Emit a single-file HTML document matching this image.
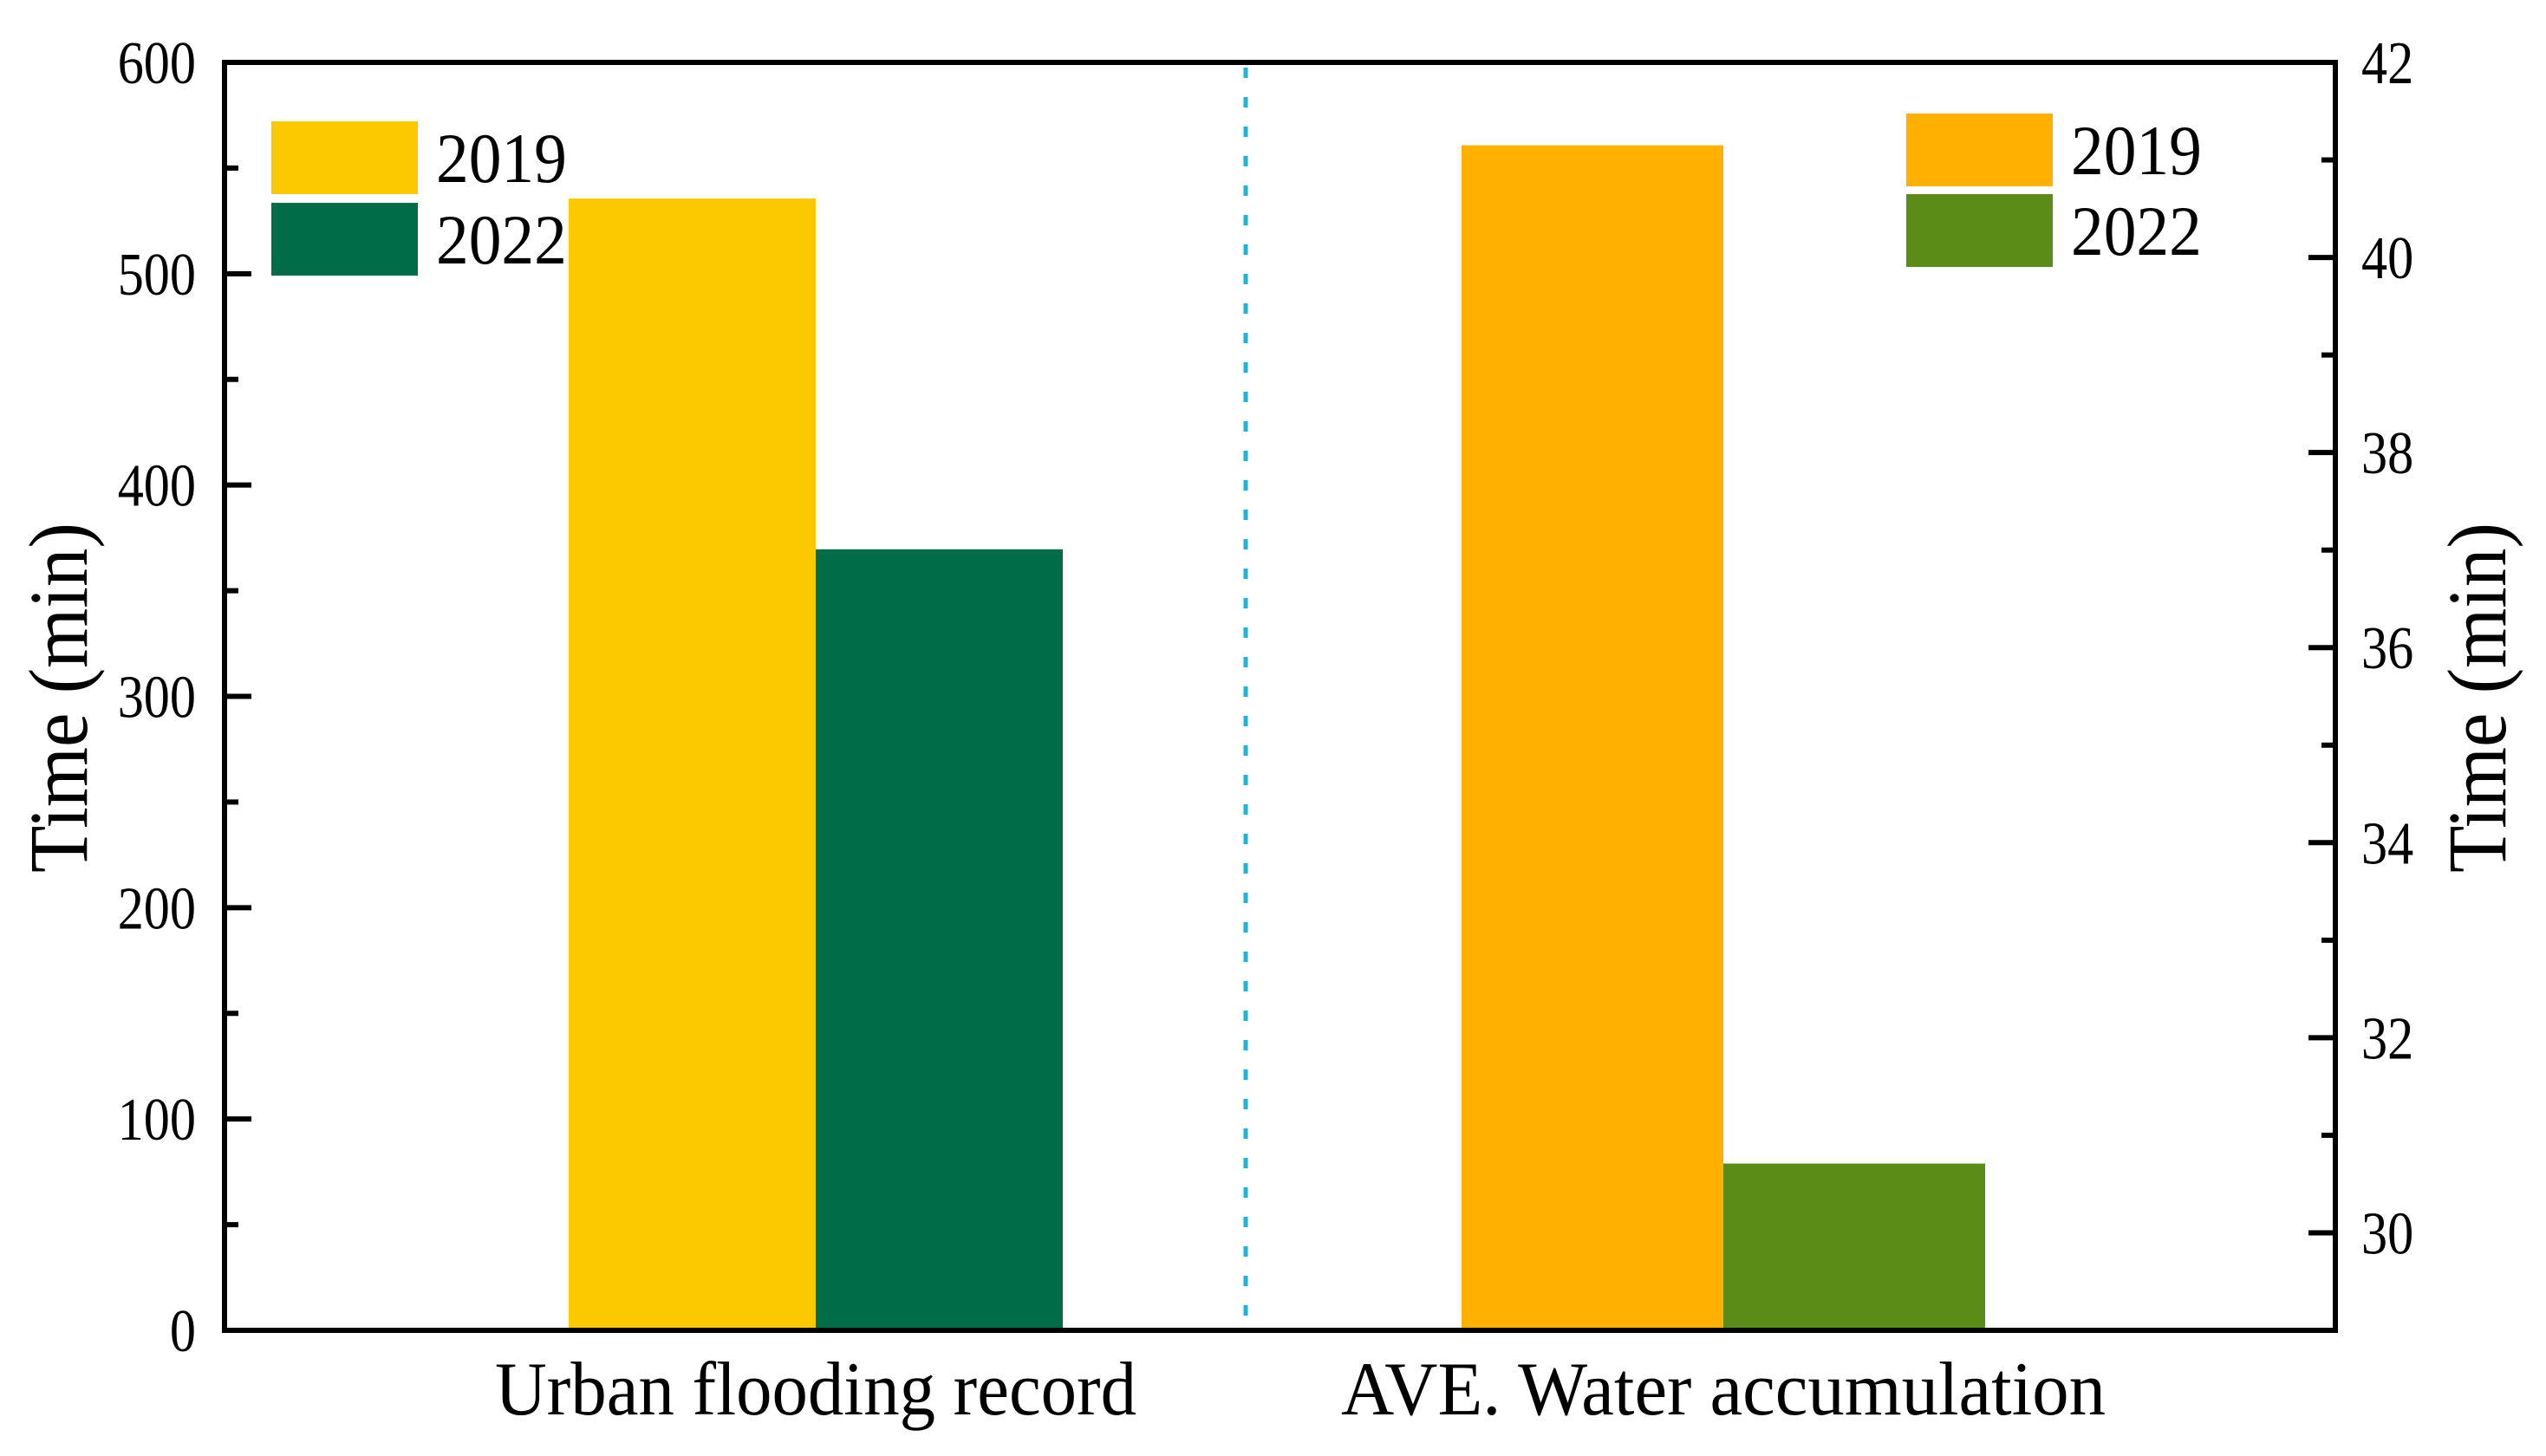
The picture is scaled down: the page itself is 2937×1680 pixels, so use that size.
<!DOCTYPE html>
<html><head><meta charset="utf-8"><style>
html,body{margin:0;padding:0;background:#fff;}
svg{display:block;font-family:"Liberation Serif",serif;}
</style></head><body>
<svg id="chart" width="2937" height="1680" xmlns="http://www.w3.org/2000/svg"></svg>
<script>
const categories = ["Urban flooding record", "AVE. Water accumulation"];
const leftValues2019 = [535.6];
const leftValues2022 = [369.6];
const rightValues2019 = [41.15];
const rightValues2022 = [30.71];
const leftTicks = [0, 100, 200, 300, 400, 500, 600];
const rightTicks = [30, 32, 34, 36, 38, 40, 42];

const svg = document.getElementById('chart');
const NS = 'http://www.w3.org/2000/svg';
const L = 259, R = 2694, T = 72, B = 1535;
const yL = v => B - (v - 0) / 600 * (B - T);
const yR = v => B - (v - 29) / 13 * (B - T);
const groupCenters = [941, 1988];
const barW = [285, 302];

function mk(tag, attrs, parent) {
  const e = document.createElementNS(NS, tag);
  for (const k in attrs) e.setAttribute(k, attrs[k]);
  (parent || svg).appendChild(e);
  return e;
}

function bar(x, w, yTop, color, name) {
  const r = mk('rect', {x: x, y: yTop, width: w, height: B - yTop, fill: color});
  
  
}
bar(groupCenters[0] - barW[0], barW[0], yL(leftValues2019[0]), '#fcc800', 'bar-flooding-2019');
bar(groupCenters[0], barW[0], yL(leftValues2022[0]), '#006c48', 'bar-flooding-2022');
bar(groupCenters[1] - barW[1], barW[1], yR(rightValues2019[0]), '#ffb000', 'bar-accumulation-2019');
bar(groupCenters[1], barW[1], yR(rightValues2022[0]), '#5b8c18', 'bar-accumulation-2022');

const dv = mk('line', {x1: 1437, x2: 1437, y1: T + 6, y2: B, stroke: '#1ab4dc', 'stroke-width': 5, 'stroke-dasharray': '12 22'});



const fr = mk('rect', {x: L, y: T, width: R - L, height: B - T, fill: 'none', stroke: '#000', 'stroke-width': 6});



for (let v = 0; v <= 600; v += 50) {
  const major = v % 100 === 0;
  const t = mk('line', {x1: L, x2: L + (major ? 31 : 16), y1: yL(v), y2: yL(v), stroke: '#000', 'stroke-width': 6});
  
  
}
leftTicks.forEach(v => {
  const t = mk('text', {x: 0, y: 0, 'text-anchor': 'end', 'font-size': 70, transform: 'translate(226,' + (yL(v) + 24) + ') scale(0.86,1)'});
  t.textContent = v;
  
  
});
for (let v = 30; v <= 42; v += 1) {
  const major = v % 2 === 0;
  const t = mk('line', {x1: R, x2: R - (major ? 31 : 16), y1: yR(v), y2: yR(v), stroke: '#000', 'stroke-width': 6});
  
  
}
rightTicks.forEach(v => {
  const t = mk('text', {x: 0, y: 0, 'text-anchor': 'start', 'font-size': 70, transform: 'translate(2724,' + (yR(v) + 24) + ') scale(0.86,1)'});
  t.textContent = v;
  
  
});

const lt = mk('text', {x: 0, y: 0, 'text-anchor': 'middle', 'font-size': 96, textLength: 404, lengthAdjust: 'spacingAndGlyphs', transform: 'translate(100,805) rotate(-90)'});
lt.textContent = 'Time (min)';


const rt = mk('text', {x: 0, y: 0, 'text-anchor': 'middle', 'font-size': 96, textLength: 404, lengthAdjust: 'spacingAndGlyphs', transform: 'translate(2890,805) rotate(-90)'});
rt.textContent = 'Time (min)';



const catW = [740, 882];
categories.forEach((c, i) => {
  const t = mk('text', {x: groupCenters[i], y: 1632, 'text-anchor': 'middle', 'font-size': 88, textLength: catW[i], lengthAdjust: 'spacingAndGlyphs'});
  t.textContent = c;
  
  
});

function legend(x, y, color, label, name) {
  const r = mk('rect', {x: x, y: y, width: 169, height: 84, fill: color});
  
  
  const t = mk('text', {x: 0, y: 0, 'font-size': 82, transform: 'translate(' + (x + 190) + ',' + (y + 70) + ') scale(0.92,1)'});
  t.textContent = label;
  
  
}
legend(313, 140, '#fcc800', '2019', 'legend-left-2019');
legend(313, 234, '#006c48', '2022', 'legend-left-2022');
legend(2199, 131, '#ffb000', '2019', 'legend-right-2019');
legend(2199, 224, '#5b8c18', '2022', 'legend-right-2022');
</script>
</body></html>
